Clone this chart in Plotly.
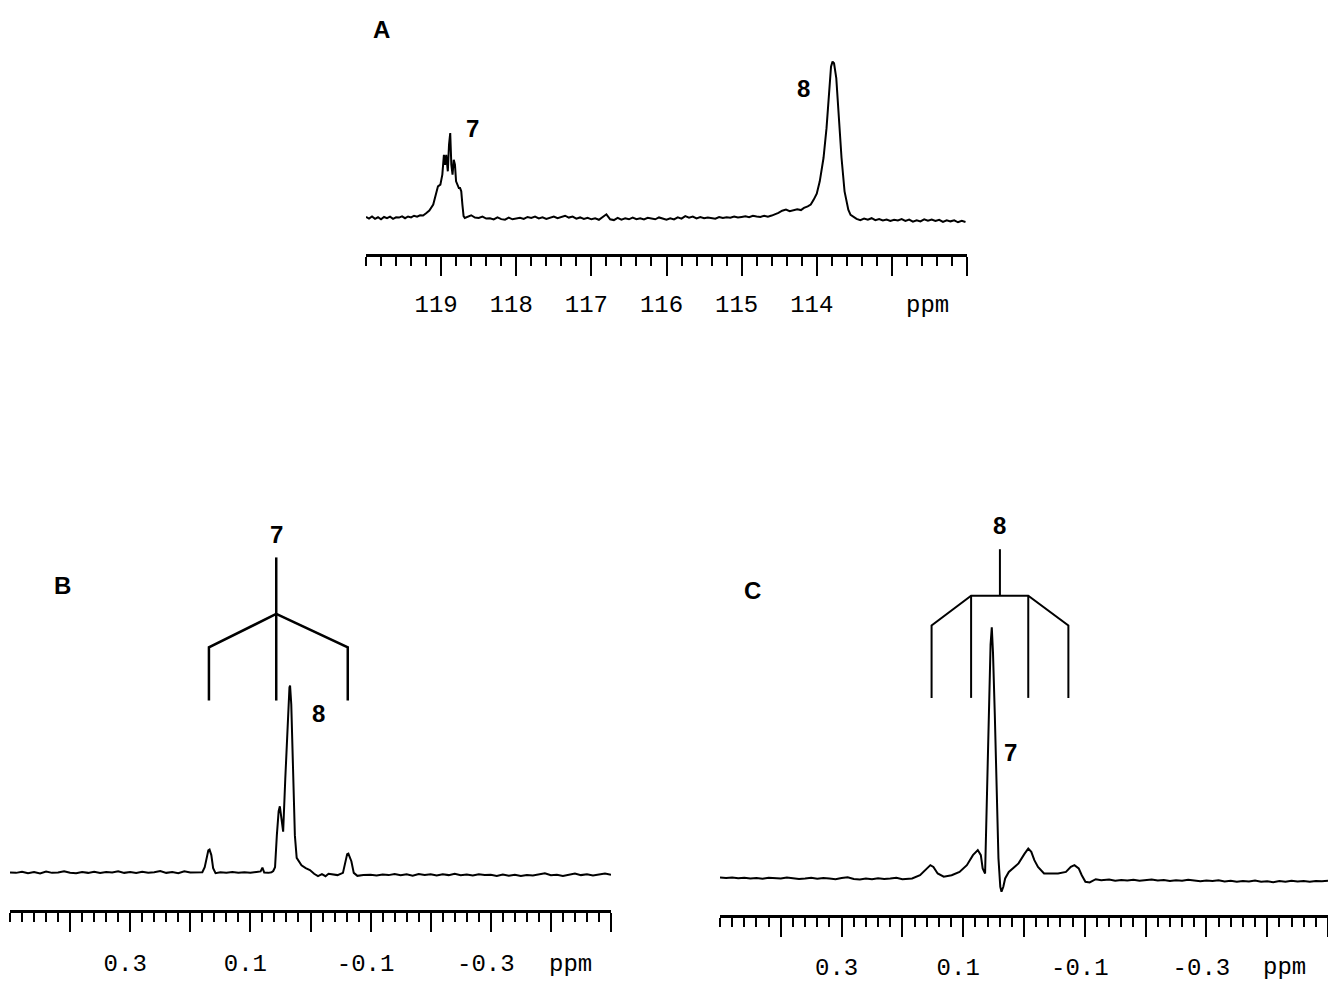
import plotly.graph_objects as go

# ---------------- Panel A : 13C region (ppm, relative intensity) ----------------
ppm_A = [
    120.00, 119.96, 119.92, 119.88, 119.84, 119.80, 119.76, 119.72, 119.68, 119.64,
    119.60, 119.56, 119.52, 119.48, 119.44, 119.40, 119.36, 119.32, 119.28, 119.24,
    119.20, 119.157, 119.105, 119.068, 119.042, 119.010, 118.984, 118.963, 118.948, 118.932,
    118.911, 118.895, 118.879, 118.864, 118.848, 118.832, 118.816, 118.801, 118.780, 118.764,
    118.748, 118.732, 118.717, 118.701, 118.685,
    118.65, 118.60, 118.55, 118.50, 118.45, 118.40, 118.35, 118.30, 118.25, 118.20,
    118.15, 118.10, 118.05, 118.00, 117.95, 117.90, 117.85, 117.80, 117.75, 117.70,
    117.65, 117.60, 117.55, 117.50, 117.45, 117.40, 117.35, 117.30, 117.25, 117.20,
    117.15, 117.10, 117.05, 117.00, 116.95, 116.90, 116.85, 116.80, 116.75, 116.70,
    116.65, 116.60, 116.55, 116.50, 116.45, 116.40, 116.35, 116.30, 116.25, 116.20,
    116.15, 116.10, 116.05, 116.00, 115.95, 115.90, 115.85, 115.80, 115.75, 115.70,
    115.65, 115.60, 115.55, 115.50, 115.45, 115.40, 115.35, 115.30, 115.25, 115.20,
    115.15, 115.10, 115.05, 115.00, 114.95, 114.90, 114.85, 114.80, 114.75, 114.70,
    114.65, 114.60, 114.55,
    114.51, 114.46, 114.41, 114.36, 114.31, 114.26, 114.21, 114.17, 114.12, 114.08,
    114.04, 114.00, 113.96, 113.93, 113.91, 113.87, 113.84, 113.81, 113.79, 113.77,
    113.74, 113.71, 113.67, 113.63, 113.60, 113.58, 113.55, 113.51, 113.47, 113.42,
    113.37, 113.32, 113.27, 113.22, 113.17, 113.12, 113.07, 113.02, 112.97, 112.92,
    112.87, 112.82, 112.77, 112.72, 112.67, 112.62, 112.57, 112.52, 112.47, 112.42,
    112.37, 112.32, 112.27, 112.22, 112.17, 112.12, 112.07, 112.02,
]
int_A = [
    0.6, -0.4, 0.9, -0.6, 0.4, -0.9, 0.6, -0.2, 0.8, -0.6,
    0.4, 0.2, 1.0, -0.2, 0.9, 0.3, 1.4, 0.8, 1.7, 1.5,
    3.0, 4.7, 8.5, 14.9, 20.2, 21.3, 27.7, 40.4, 34.0, 40.4,
    29.8, 46.8, 54.3, 34.0, 27.7, 37.2, 34.0, 23.4, 21.3, 19.1,
    19.1, 17.0, 8.5, 1.1, 0.0,
    0.5, 1.7, 0.2, 0.0, 0.9, -0.4, -0.2, -1.0, 0.3, -0.8,
    -1.1, 0.2, -0.9, -0.5, 0.1, -0.7, 0.6, 0.0, 0.8, -0.3,
    0.4, -0.6, 0.2, 0.9, -0.2, 0.5, 1.4, 0.2, 0.8, -0.5,
    0.3, -0.6, 0.1, -0.9, -0.3, -1.2, 0.4, 2.3, -0.9, -1.4,
    0.0, -1.1, -0.3, -0.9, 0.2, -0.8, -0.2, -1.0, 0.1, -0.6,
    -0.9, 0.3, -0.4, -1.1, -0.2, -1.0, 0.4, -0.5, 1.1, 0.2,
    0.9, -0.3, 0.5, -0.2, 0.3, 0.0, -0.5, 0.6, -0.1, 0.4,
    0.1, 0.8, 0.2, 0.6, 1.0, 0.4, 1.3, 0.9, 0.6, 1.4,
    0.8, 1.5, 2.4,
    3.2, 4.6, 5.3, 4.3, 4.9, 5.5, 5.0, 6.4, 7.4, 8.5,
    11.7, 15.5, 23.4, 31.0, 38.3, 57.4, 80.9, 96.8, 100.0, 98.9,
    89.4, 63.8, 38.3, 17.0, 9.5, 5.3, 2.0, 0.4, -0.6, -1.4,
    -0.4, -1.2, -0.2, -1.5, -0.8, -1.7, -1.0, -2.0, -1.2, -1.6,
    -0.8, -1.9, -1.1, -2.4, -1.5, -2.2, -0.9, -1.8, -1.0, -2.0,
    -1.2, -2.6, -1.5, -2.2, -1.6, -2.8, -1.9, -2.6,
]
tickvals_A = [119, 118, 117, 116, 115, 114, 113, 112]
ticktext_A = ["119", "118", "117", "116", "115", "114", "", ""]

# ---------------- Panel B ----------------
ppm_B = [
    0.50, 0.49, 0.48, 0.47, 0.46, 0.45, 0.44, 0.43, 0.42, 0.41,
    0.40, 0.39, 0.38, 0.37, 0.36, 0.35, 0.34, 0.33, 0.32, 0.31,
    0.30, 0.29, 0.28, 0.27, 0.26, 0.25, 0.24, 0.23, 0.22, 0.21,
    0.20, 0.19, 0.18,
    0.176, 0.173, 0.170, 0.168, 0.165, 0.162, 0.158, 0.150, 0.140, 0.130,
    0.120, 0.110, 0.100, 0.090, 0.083, 0.080, 0.077, 0.070, 0.065, 0.062,
    0.059, 0.056, 0.053, 0.051, 0.048, 0.0455, 0.042, 0.038, 0.035, 0.034,
    0.032, 0.029, 0.026, 0.023, 0.019, 0.015, 0.008, 0.001, -0.006, -0.0125,
    -0.019, -0.025, -0.030, -0.035, -0.045, -0.054, -0.058, -0.061, -0.063, -0.066,
    -0.068, -0.072, -0.078, -0.088,
    -0.10, -0.11, -0.12, -0.13, -0.14, -0.15, -0.16, -0.17, -0.18, -0.19,
    -0.20, -0.21, -0.22, -0.23, -0.24, -0.25, -0.26, -0.27, -0.28, -0.29,
    -0.30, -0.31, -0.32, -0.33, -0.34, -0.35, -0.36, -0.37, -0.38, -0.39,
    -0.40, -0.41, -0.42, -0.43, -0.44, -0.45, -0.46, -0.47, -0.48, -0.49,
    -0.50,
]
int_B = [
    0.2, 0.0, 0.6, -0.2, 0.4, -0.3, 0.7, 0.0, 0.2, 0.9,
    0.1, -0.2, 0.5, 0.0, 0.6, -0.1, 0.4, 0.2, 0.8, 0.0,
    0.5, -0.1, 0.6, 0.1, 0.3, 1.0, 0.0, 0.4, -0.2, 0.9,
    0.2, 0.1, 0.3,
    3.0, 8.5, 12.0, 12.4, 9.5, 2.5, -0.2, 0.3, 0.1, 0.4,
    0.0, 0.3, 0.0, 0.5, 0.8, 2.8, 0.2, 0.0, 0.3, 1.0,
    3.0, 20.0, 33.0, 35.5, 27.0, 22.0, 50.0, 82.0, 99.0, 100.0,
    90.0, 55.0, 20.0, 8.0, 6.0, 4.0, 2.5, 1.5, -0.5, -1.7,
    -0.7, -1.8, -0.5, -0.7, -1.2, 0.0, 6.2, 10.0, 10.3, 8.0,
    6.2, 0.0, -1.6, -1.2,
    -1.0, -1.4, -0.9, -1.2, -0.6, -1.3, -0.8, -1.5, -0.6, -1.1,
    -0.7, -1.4, -0.8, -1.2, -0.5, -1.3, -0.9, -1.4, -0.8, -1.2,
    -1.0, -1.6, -0.9, -1.5, -1.0, -1.7, -1.1, -1.4, -0.9, -0.2,
    -1.3, -1.0, -1.6, -1.1, -0.3, -1.2, -0.8, -1.4, -0.9, -0.4,
    -1.0,
]
# triplet bracket for signal 7 (panel B)
bracket_B_ppm = [0.057, 0.057, None, 0.169, 0.169, 0.057, -0.062, -0.062]
bracket_B_int = [92.0, 168.4, None, 92.0, 120.4, 138.2, 120.4, 92.0]

# ---------------- Panel C ----------------
ppm_C = [
    0.50, 0.49, 0.48, 0.47, 0.46, 0.45, 0.44, 0.43, 0.42, 0.41,
    0.40, 0.39, 0.38, 0.37, 0.36, 0.35, 0.34, 0.33, 0.32, 0.31,
    0.30, 0.29, 0.28, 0.27, 0.26, 0.25, 0.24, 0.23, 0.22, 0.21,
    0.20, 0.19,
    0.184, 0.171, 0.162, 0.154, 0.149, 0.142, 0.132, 0.119, 0.106, 0.094,
    0.084, 0.076, 0.071, 0.068, 0.064, 0.061, 0.058, 0.055, 0.053, 0.051,
    0.048, 0.045, 0.042, 0.039, 0.037, 0.034, 0.031, 0.025, 0.019, 0.009,
    -0.001, -0.007, -0.012, -0.017, -0.023, -0.033, -0.043, -0.056, -0.069, -0.077,
    -0.083, -0.090, -0.095, -0.101, -0.108, -0.118, -0.127,
    -0.13, -0.14, -0.15, -0.16, -0.17, -0.18, -0.19, -0.20, -0.21, -0.22,
    -0.23, -0.24, -0.25, -0.26, -0.27, -0.28, -0.29, -0.30, -0.31, -0.32,
    -0.33, -0.34, -0.35, -0.36, -0.37, -0.38, -0.39, -0.40, -0.41, -0.42,
    -0.43, -0.44, -0.45, -0.46, -0.47, -0.48, -0.49, -0.50,
]
int_C = [
    0.4, 0.2, 0.4, 0.1, 0.3, 0.0, 0.2, -0.1, 0.3, 0.1,
    0.0, 0.4, 0.1, -0.2, 0.0, 0.3, -0.1, 0.2, 0.0, -0.3,
    0.2, 0.5, -0.2, -0.4, 0.0, -0.3, 0.1, -0.2, 0.0, 0.3,
    -0.3, 0.0,
    0.0, 1.3, 3.3, 5.3, 4.6, 2.0, 0.7, 1.3, 2.6, 5.3,
    9.3, 11.3, 9.3, 4.0, 2.0, 30.0, 65.0, 93.0, 100.0, 90.0,
    65.0, 33.0, 8.0, -3.3, -5.3, -3.3, 0.0, 2.6, 4.0, 6.0,
    9.9, 11.9, 10.6, 7.3, 4.6, 2.0, 2.0, 2.0, 2.6, 4.6,
    5.3, 4.0, 1.3, -1.3, -1.6, -0.3, -0.7,
    -0.7, -0.4, -0.9, -0.6, -0.8, -0.5, -0.9, -0.7, -0.4, -0.8,
    -0.6, -1.0, -0.7, -0.9, -0.5, -0.8, -1.1, -0.8, -1.0, -0.7,
    -1.2, -0.9, -1.3, -1.0, -1.2, -0.8, -1.3, -1.1, -1.5, -1.0,
    -1.3, -0.9, -1.2, -1.0, -1.3, -1.0, -1.1, -0.9,
]
# quintet-like bracket for signal 8 (panel C)
bracket_C_ppm = [0.152, 0.152, 0.087, -0.007, -0.073, -0.073, None,
                 0.087, 0.087, None, -0.007, -0.007, None, 0.0396, 0.0396]
bracket_C_int = [71.9, 100.7, 112.6, 112.6, 100.7, 71.9, None,
                 71.9, 112.6, None, 71.9, 112.6, None, 112.6, 131.1]

tickvals_BC = [0.4, 0.3, 0.2, 0.1, 0.0, -0.1, -0.2, -0.3, -0.4, -0.5]
ticktext_BC = ["", "0.3", "", "0.1", "", "-0.1", "", "-0.3", "", ""]

MONO = "Liberation Mono, Courier New, monospace"
BOLD = "Liberation Sans, Arial, sans-serif"
TICKSIZE = 24

fig = go.Figure()
line = dict(color="black", width=2)
fig.add_trace(go.Scatter(x=ppm_A, y=int_A, xaxis="x", yaxis="y", mode="lines", line=line))
fig.add_trace(go.Scatter(x=ppm_B, y=int_B, xaxis="x2", yaxis="y2", mode="lines", line=line))
fig.add_trace(go.Scatter(x=bracket_B_ppm, y=bracket_B_int, xaxis="x2", yaxis="y2",
                         mode="lines", line=dict(color="black", width=2.5)))
fig.add_trace(go.Scatter(x=ppm_C, y=int_C, xaxis="x3", yaxis="y3", mode="lines", line=line))
fig.add_trace(go.Scatter(x=bracket_C_ppm, y=bracket_C_int, xaxis="x3", yaxis="y3",
                         mode="lines", line=dict(color="black", width=2)))


def xax(domain, rng, anchor, tickvals, ticktext, minor_dtick, standoff):
    return dict(
        domain=domain, range=rng, anchor=anchor,
        showline=True, linecolor="black", linewidth=3,
        ticks="outside", ticklen=19, tickwidth=2, tickcolor="black",
        tickmode="array", tickvals=tickvals, ticktext=ticktext,
        minor=dict(ticks="outside", ticklen=9, tickwidth=1.5, tickcolor="black",
                   tickmode="linear", tick0=0, dtick=minor_dtick, showgrid=False),
        showgrid=False, zeroline=False,
        tickfont=dict(family=MONO, size=TICKSIZE, color="black"),
        ticklabelstandoff=standoff,
        ticklabelshift=5,
    )


def yax(domain, rng, anchor):
    return dict(domain=domain, range=rng, anchor=anchor, visible=False,
                showgrid=False, zeroline=False)


fig.update_layout(
    width=1328, height=982,
    margin=dict(l=0, r=0, t=0, b=0),
    paper_bgcolor="white", plot_bgcolor="white",
    showlegend=False,
    xaxis=xax([366 / 1328, 967 / 1328], [120, 112], "y", tickvals_A, ticktext_A, 0.2, 7),
    yaxis=yax([1 - 255 / 982, 1.0], [-23.4, 139.4], "x"),
    xaxis2=xax([10 / 1328, 611 / 1328], [0.5, -0.5], "y2", tickvals_BC, ticktext_BC, 0.02, 10),
    yaxis2=yax([1 - 912 / 982, 1 - 500 / 982], [-19.9, 199.6], "x2"),
    xaxis3=xax([720 / 1328, 1.0], [0.5, -0.5], "y3", tickvals_BC, ticktext_BC, 0.02, 9),
    yaxis3=yax([1 - 917 / 982, 1 - 500 / 982], [-14.6, 151.1], "x3"),
)

bold = dict(family=BOLD, size=24, color="black", weight="bold")
mono = dict(family=MONO, size=TICKSIZE, color="black")
ann = [
    dict(text="<b>A</b>", xref="paper", yref="paper", x=381 / 1328, y=1 - 30 / 982),
    dict(text="<b>B</b>", xref="paper", yref="paper", x=62 / 1328, y=1 - 587 / 982),
    dict(text="<b>C</b>", xref="paper", yref="paper", x=752 / 1328, y=1 - 592 / 982),
    dict(text="<b>7</b>", xref="x", yref="y", x=118.58, y=57),
    dict(text="<b>8</b>", xref="x", yref="y", x=114.18, y=83),
    dict(text="<b>7</b>", xref="x2", yref="y2", x=0.057, y=180.8),
    dict(text="<b>8</b>", xref="x2", yref="y2", x=-0.0125, y=85),
    dict(text="<b>8</b>", xref="x3", yref="y3", x=0.0396, y=140.4),
    dict(text="<b>7</b>", xref="x3", yref="y3", x=0.022, y=50.3),
]
for a in ann:
    fig.add_annotation(showarrow=False, font=bold, xanchor="center", yanchor="middle", **a)

for xr, xv, yv in [("x", 112.53, 1 - 306 / 982), ("x2", -0.433, 1 - 966 / 982), ("x3", -0.429, 1 - 969 / 982)]:
    fig.add_annotation(text="ppm", showarrow=False, font=mono, xref=xr, yref="paper",
                       x=xv, y=yv, xanchor="center", yanchor="middle")

fig.write_html("out.html")
